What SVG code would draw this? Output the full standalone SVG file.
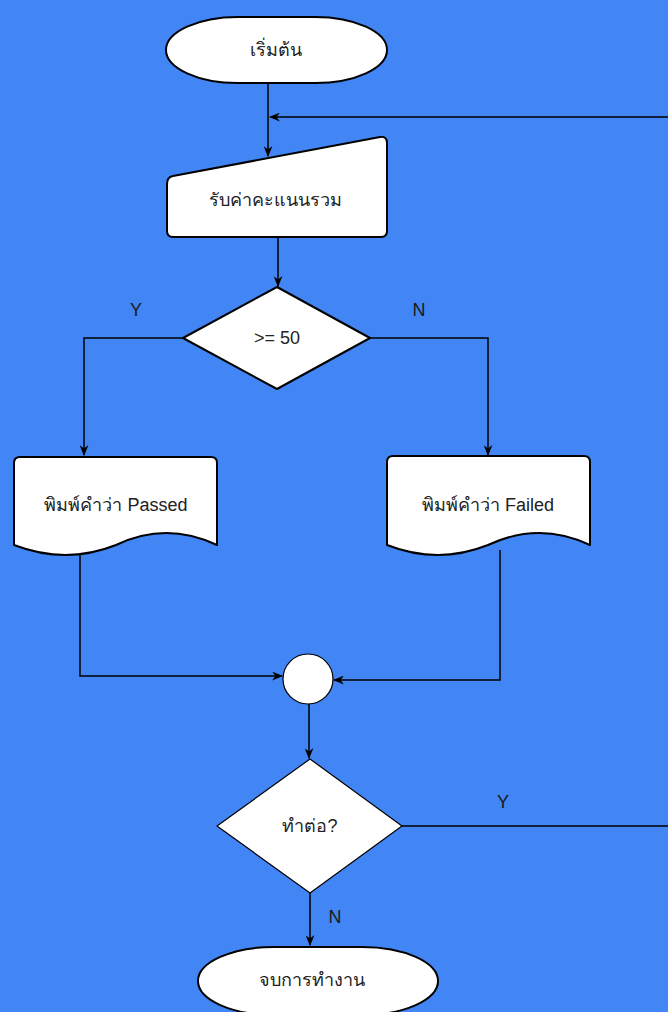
<svg xmlns="http://www.w3.org/2000/svg" width="668" height="1012" viewBox="0 0 668 1012">
  <style>
    .shape { fill: #ffffff; stroke: #000000; stroke-width: 2; stroke-linejoin: round; }
    .thin { stroke-width: 1.2; }
    .edge { fill: none; stroke: #000000; stroke-width: 1.5; }
    .label { font-family: "Liberation Sans", "Noto Sans", "DejaVu Sans", sans-serif; font-size: 18px; fill: #222222; text-anchor: middle; dominant-baseline: central; }
    .edge-label { font-family: "Liberation Sans", "Noto Sans", sans-serif; font-size: 18px; fill: #1a1a1a; text-anchor: middle; dominant-baseline: central; }
  </style>
  <defs>
    <marker id="arrow" viewBox="0 0 10 8" refX="9" refY="4" markerWidth="11" markerHeight="9" markerUnits="userSpaceOnUse" orient="auto">
      <path d="M0,0 L10,4 L0,8 L3,4 z" fill="#000000"/>
    </marker>
  </defs>

  <rect x="0" y="0" width="668" height="1012" fill="#4285F4"/>

  <!-- connectors -->
  <g id="connectors">
    <path class="edge" d="M268,84 V156" marker-end="url(#arrow)"/>
    <path class="edge" d="M680,117 H270" marker-end="url(#arrow)"/>
    <path class="edge" d="M278,237 V286" marker-end="url(#arrow)"/>
    <path class="edge" d="M183,338 H84 V455" marker-end="url(#arrow)"/>
    <path class="edge" d="M370,338 H488 V455" marker-end="url(#arrow)"/>
    <path class="edge" d="M80,555 V676 H282" marker-end="url(#arrow)"/>
    <path class="edge" d="M500,550 V680 H334" marker-end="url(#arrow)"/>
    <path class="edge" d="M309,704 V758" marker-end="url(#arrow)"/>
    <path class="edge" d="M402,826 H680"/>
    <path class="edge" d="M310,893 V945" marker-end="url(#arrow)"/>
    <text class="edge-label" x="136" y="310">Y</text>
    <text class="edge-label" x="419" y="310">N</text>
    <text class="edge-label" x="503" y="802">Y</text>
    <text class="edge-label" x="335" y="917">N</text>
  </g>

  <!-- start terminator -->
  <g id="start">
    <rect class="shape" x="166" y="17" width="221" height="66" rx="72" ry="33"/>
    <text class="label" x="276" y="50">เริ่มต้น</text>
  </g>

  <!-- manual input -->
  <g id="input">
    <path class="shape" d="M173,176 L380,137 Q387,136 387,143 V231 Q387,237 381,237 H173 Q167,237 167,231 V184 Q167,177 173,176 Z"/>
    <text class="label" x="275" y="200">รับค่าคะแนนรวม</text>
  </g>

  <!-- decision: score -->
  <g id="check-score">
    <polygon class="shape" points="277,287 370,338 277,389 183,338"/>
    <text class="label" x="277" y="338">&gt;= 50</text>
  </g>

  <!-- print passed -->
  <g id="print-passed">
    <path class="shape" d="M20,457 H211 Q217,457 217,463 V545 Q166,521 116,545 Q66,565 14,545 V463 Q14,457 20,457 Z"/>
    <text class="label" x="116" y="505">พิมพ์คำว่า Passed</text>
  </g>

  <!-- print failed -->
  <g id="print-failed">
    <path class="shape" d="M393,456 H584 Q590,456 590,462 V545 Q539,521 488,545 Q438,565 387,545 V462 Q387,456 393,456 Z"/>
    <text class="label" x="488" y="505">พิมพ์คำว่า Failed</text>
  </g>

  <!-- connector junction -->
  <g id="junction">
    <circle class="shape thin" cx="308" cy="679" r="25"/>
  </g>

  <!-- decision: continue -->
  <g id="check-continue">
    <polygon class="shape thin" points="310,759 402,826 310,893 217,826"/>
    <text class="label" x="310" y="826">ทำต่อ?</text>
  </g>

  <!-- end terminator -->
  <g id="end">
    <rect class="shape" x="198" y="947" width="240" height="68" rx="76" ry="34"/>
    <text class="label" x="312" y="980">จบการทำงาน</text>
  </g>
</svg>
